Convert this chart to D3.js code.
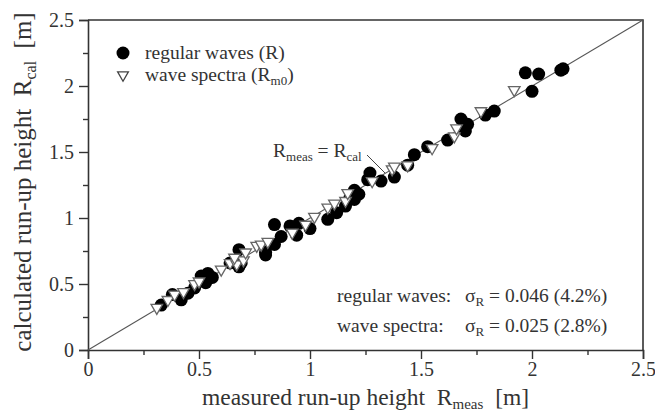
<!DOCTYPE html>
<html>
<head>
<meta charset="utf-8">
<script src="https://cdn.jsdelivr.net/npm/d3@7"></script>
<style>
  body { margin: 0; background: #fff; }
  text { font-family: "Liberation Serif", "Times New Roman", serif; fill: #333; white-space: pre; }
</style>
</head>
<body>
<div id="chart"></div>
<script>
// regular waves (R): measured / calculated
const regMeas = [0.33, 0.38, 0.42, 0.45, 0.48, 0.51, 0.54, 0.53, 0.56, 0.53, 0.64, 0.68, 0.68, 0.69, 0.80, 0.80,
  0.84, 0.87, 0.84, 0.91, 0.95, 0.94, 1.00, 1.08, 1.12, 1.16, 1.20, 1.20, 1.20, 1.18, 1.22, 1.27, 1.26, 1.32,
  1.38, 1.44, 1.47, 1.53, 1.62, 1.68, 1.71, 1.70, 1.79, 1.83, 1.97, 2.03, 2.13, 2.14, 2.00];
const regCal = [0.34, 0.42, 0.38, 0.43, 0.47, 0.56, 0.58, 0.51, 0.55, 0.54, 0.66, 0.63, 0.76, 0.66, 0.74, 0.72,
  0.95, 0.86, 0.80, 0.94, 0.96, 0.87, 0.92, 0.99, 1.04, 1.09, 1.19, 1.14, 1.21, 1.15, 1.18, 1.34, 1.29, 1.28,
  1.31, 1.40, 1.48, 1.54, 1.59, 1.75, 1.71, 1.66, 1.78, 1.81, 2.10, 2.09, 2.12, 2.13, 1.96];

// wave spectra (Rm0): measured / calculated
const specMeas = [0.31, 0.36, 0.39, 0.43, 0.48, 0.50, 0.60, 0.64, 0.67, 0.70, 0.66, 0.71, 0.76, 0.78, 0.81,
  0.92, 0.98, 1.02, 1.08, 1.11, 1.16, 1.17, 1.28, 1.37, 1.44, 1.38, 1.55, 1.65, 1.66, 1.77, 1.92];
const specCal = [0.32, 0.38, 0.42, 0.44, 0.50, 0.52, 0.61, 0.66, 0.65, 0.68, 0.70, 0.74, 0.79, 0.80, 0.82,
  0.89, 0.95, 1.01, 1.08, 1.11, 1.13, 1.19, 1.28, 1.37, 1.40, 1.39, 1.53, 1.62, 1.68, 1.81, 1.97];

const majorTicks = [0, 0.5, 1, 1.5, 2, 2.5];
const minorTicks = [0.25, 0.75, 1.25, 1.75, 2.25];
const tickFmt = d => d3.format("")(d);

const W = 655, H = 413;
const margin = { top: 20, right: 12, bottom: 63, left: 88 };
const width = W - margin.left - margin.right,
    height = H - margin.top - margin.bottom;

const svg = d3.select("#chart").append("svg")
    .attr("width", W).attr("height", H)
    .append("g")
    .attr("transform", `translate(${margin.left},${margin.top})`);

const x = d3.scaleLinear().domain([0, 2.5]).range([0, width]);
const y = d3.scaleLinear().domain([0, 2.5]).range([height, 0]);

// frame (top + right)
svg.append("path")
    .attr("d", `M0,0H${width}V${height}`)
    .attr("fill", "none").attr("stroke", "#333").attr("stroke-width", 1.6);

// X axis
svg.append("g")
    .attr("transform", `translate(0,${height})`)
    .call(d3.axisBottom(x).tickValues(majorTicks).tickFormat(tickFmt).tickSize(9).tickPadding(3));
svg.append("g")
    .attr("transform", `translate(0,${height})`)
    .call(d3.axisBottom(x).tickValues(minorTicks).tickFormat("").tickSize(5))
    .select(".domain").remove();

// Y axis
svg.append("g")
    .call(d3.axisLeft(y).tickValues(majorTicks).tickFormat(tickFmt).tickSize(9).tickPadding(5));
svg.append("g")
    .call(d3.axisLeft(y).tickValues(minorTicks).tickFormat("").tickSize(5))
    .select(".domain").remove();

svg.selectAll(".domain").attr("stroke", "#333").attr("stroke-width", 1.6);
svg.selectAll(".tick line").attr("stroke", "#333").attr("stroke-width", 1.4);
svg.selectAll(".tick text").style("font-size", "20px").attr("fill", "#333");

// identity line
svg.append("line")
    .attr("x1", x(0)).attr("y1", y(0)).attr("x2", x(2.5)).attr("y2", y(2.5))
    .attr("stroke", "#555").attr("stroke-width", 1.1);

// regular waves
const reg = regMeas.map((d, i) => ({ m: d, c: regCal[i] }));
svg.selectAll("circle.reg")
    .data(reg)
    .join("circle")
    .attr("class", "reg")
    .attr("cx", d => x(d.m))
    .attr("cy", d => y(d.c))
    .attr("r", 6.5)
    .attr("fill", "#000");

// wave spectra (downward triangles)
const tri = d3.symbol().type(d3.symbolTriangle).size(58);
const spec = specMeas.map((d, i) => ({ m: d, c: specCal[i] }));
svg.selectAll("path.spec")
    .data(spec)
    .join("path")
    .attr("class", "spec")
    .attr("d", tri)
    .attr("transform", d => `translate(${x(d.m)},${y(d.c)}) rotate(180)`)
    .attr("fill", "#fff")
    .attr("stroke", "#666")
    .attr("stroke-width", 1.3);

// legend
const leg = svg.append("g").attr("transform", "translate(35,33)");
leg.append("circle").attr("cx", 0).attr("cy", 0).attr("r", 6.5).attr("fill", "#000");
leg.append("text").attr("x", 22).attr("y", 6).style("font-size", "19.5px").text("regular waves (R)");
leg.append("path").attr("d", d3.symbol().type(d3.symbolTriangle).size(50)())
    .attr("transform", "translate(0,22) rotate(180)")
    .attr("fill", "#fff").attr("stroke", "#444").attr("stroke-width", 1.3);
const l2 = leg.append("text").attr("x", 22).attr("y", 28).style("font-size", "19.5px");
l2.append("tspan").text("wave spectra (R");
l2.append("tspan").attr("dy", 4).style("font-size", "13px").text("m0");
l2.append("tspan").attr("dy", -4).text(")");

// identity label + leader
const lab = svg.append("text").attr("x", 185).attr("y", 137).style("font-size", "19.5px");
lab.append("tspan").text("R");
lab.append("tspan").attr("dy", 4).style("font-size", "13px").text("meas");
lab.append("tspan").attr("dy", -4).text(" = R");
lab.append("tspan").attr("dy", 4).style("font-size", "13px").text("cal");
svg.append("line")
    .attr("x1", 279).attr("y1", 135).attr("x2", 297).attr("y2", 153)
    .attr("stroke", "#444").attr("stroke-width", 1);

// statistics
function stat(yy, label, val) {
  svg.append("text").attr("x", 249).attr("y", yy).style("font-size", "19.5px").text(label);
  const t = svg.append("text").attr("x", 377).attr("y", yy).style("font-size", "19.5px");
  t.append("tspan").text("σ");
  t.append("tspan").attr("dy", 4).style("font-size", "13px").text("R");
  t.append("tspan").attr("dy", -4).text(" = " + val);
}
stat(282, "regular waves:", "0.046 (4.2%)");
stat(312, "wave spectra:", "0.025 (2.8%)");

// axis titles
const xt = svg.append("text")
    .attr("x", width / 2).attr("y", height + 55)
    .attr("text-anchor", "middle").style("font-size", "23.5px");
xt.append("tspan").text("measured run-up height  R");
xt.append("tspan").attr("dy", 4).style("font-size", "15px").text("meas");
xt.append("tspan").attr("dy", -4).text("  [m]");

const yt = svg.append("text")
    .attr("transform", `translate(${-57},${height / 2 - 3}) rotate(-90)`)
    .attr("text-anchor", "middle").style("font-size", "25px");
yt.append("tspan").text("calculated run-up height  R");
yt.append("tspan").attr("dy", 5).style("font-size", "16px").text("cal");
yt.append("tspan").attr("dy", -5).text("  [m]");
</script>
</body>
</html>
